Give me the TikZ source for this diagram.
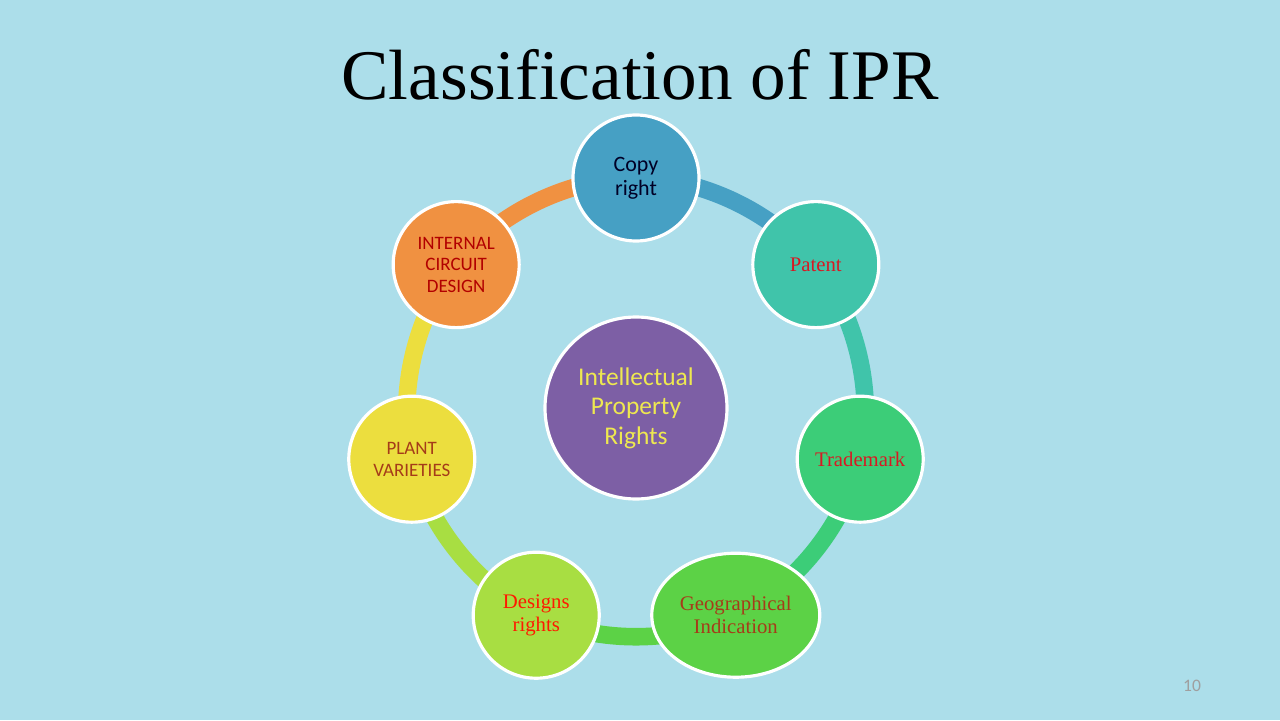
\documentclass[tikz,border=0pt]{standalone}
\usepackage{fontspec}
\setmainfont{Liberation Serif}
\newfontfamily\calibri{Carlito}
\usetikzlibrary{shapes.geometric,backgrounds}

\definecolor{bgblue}{RGB}{172,222,234}
\definecolor{ipr}{RGB}{125,95,165}
\definecolor{iprtext}{RGB}{238,232,80}
\definecolor{cpy}{RGB}{70,160,196}
\definecolor{pat}{RGB}{64,196,170}
\definecolor{trd}{RGB}{60,205,120}
\definecolor{geo}{RGB}{92,210,70}
\definecolor{dsg}{RGB}{168,222,66}
\definecolor{plt}{RGB}{236,222,62}
\definecolor{icd}{RGB}{240,145,65}
\definecolor{redtext}{RGB}{215,25,35}
\definecolor{browntext}{RGB}{165,60,25}

\begin{document}
\begin{tikzpicture}[
	leaf/.style={circle,draw=white,line width=1.8pt,minimum size=2.52cm,inner sep=0pt,align=center},
	serifred/.style={text=redtext,font=\fontsize{11.8}{13.2}\selectfont},
	capsred/.style={text=browntext,font=\calibri\fontsize{10.8}{12.3}\selectfont},
	ring/.style={line width=10pt,bend left=25.7,looseness=0.85},
]
	\useasboundingbox (-12.72,-6.24) rectangle (12.88,8.16);
	
	%title
	\node[anchor=base] (title) at (0.08,6.16) {\fontsize{40.5}{45}\selectfont Classification of IPR};
	
	%centre circle
	\node[leaf,minimum size=3.64cm,fill=ipr,text=iprtext,font=\calibri\fontsize{14.5}{16.8}\selectfont] (ipr) at (0,0) {Intellectual\\Property\\Rights};
	
	%outer circles
	\node[leaf,fill=cpy,text=black!85!blue,font=\calibri\fontsize{12.5}{13.7}\selectfont] (copy) at (90:4.6) {Copy\\right};
	\node[leaf,fill=pat,serifred] (patent) at (38.57:4.6) {Patent};
	\node[leaf,fill=trd,serifred] (trademark) at (-12.86:4.6) {Trademark};
	\node[ellipse,draw=white,line width=1.8pt,minimum width=3.36cm,minimum height=2.48cm,inner sep=0pt,align=center,fill=geo,serifred,text=browntext] (geo) at (-64.29:4.6) {Geographical\\Indication};
	\node[leaf,fill=dsg,serifred,text=red!80!orange] (designs) at (-115.71:4.6) {Designs\\rights};
	\node[leaf,fill=plt,capsred] (plant) at (-167.14:4.6) {PLANT\\VARIETIES};
	\node[leaf,fill=icd,capsred,text=red!70!black] (circuit) at (141.43:4.6) {INTERNAL\\CIRCUIT\\DESIGN};
	
	%page number
	\node[text=gray!75,font=\calibri\fontsize{10}{12}\selectfont] (page) at (11.12,-5.56) {10};
	
	\begin{scope}[on background layer]
		\fill[bgblue] (-12.72,-6.24) rectangle (12.88,8.16);
		%ring segments
		\draw[ring,cpy] (copy.center) to (patent.center);
		\draw[ring,pat] (patent.center) to (trademark.center);
		\draw[ring,trd] (trademark.center) to (geo.center);
		\draw[ring,geo] (geo.center) to (designs.center);
		\draw[ring,dsg] (designs.center) to (plant.center);
		\draw[ring,plt] (plant.center) to (circuit.center);
		\draw[ring,icd] (circuit.center) to (copy.center);
	\end{scope}
\end{tikzpicture}
\end{document}
